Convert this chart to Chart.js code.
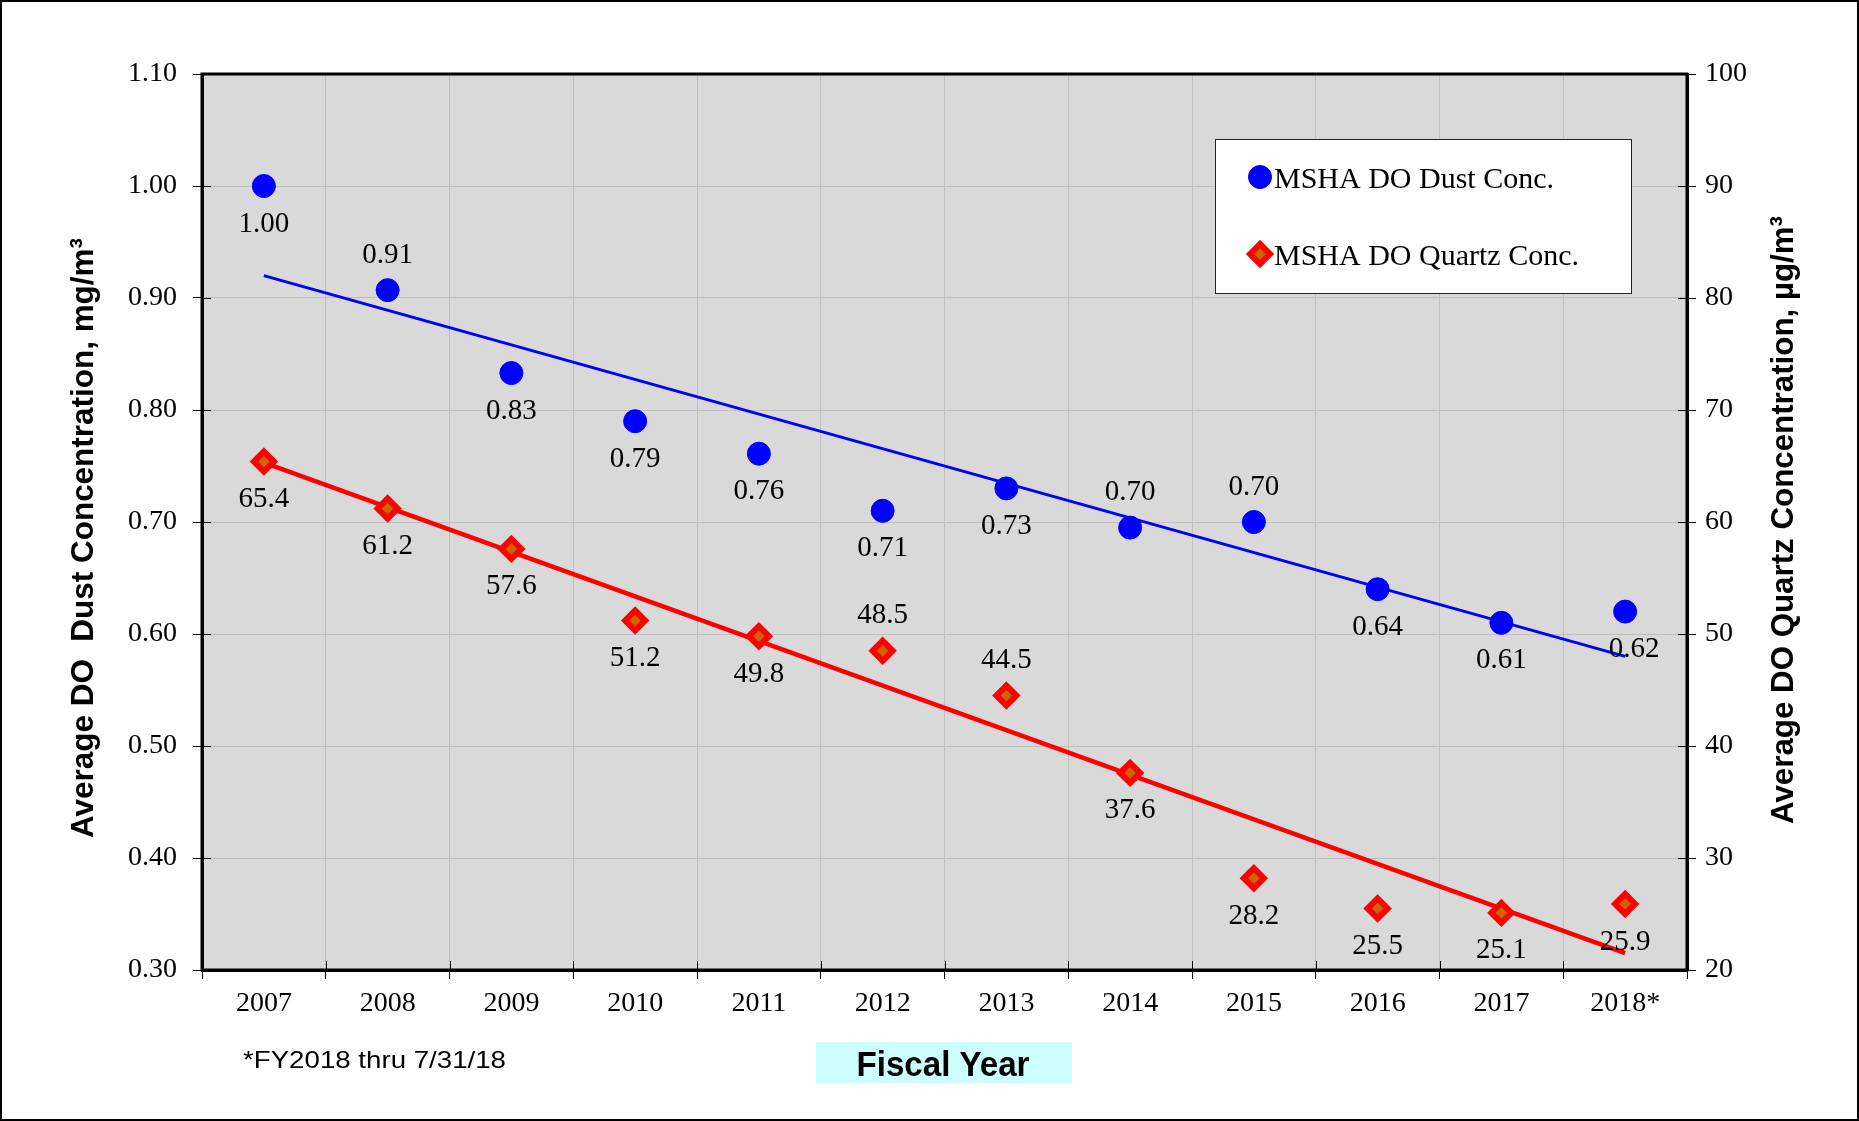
<!DOCTYPE html>
<html>
<head>
<meta charset="utf-8">
<title>MSHA DO Dust and Quartz Concentration</title>
<script src="https://cdn.jsdelivr.net/npm/chart.js@4.4.1/dist/chart.umd.min.js"></script>
<style>
  html, body { margin: 0; padding: 0; background: #fff; }
  .frame { width: 1859px; height: 1121px; box-sizing: border-box; border: 2px solid #000; }
  canvas { display: block; }
</style>
</head>
<body>
<div class="frame"><canvas id="myChart" width="1855" height="1117"></canvas></div>
<script>
/* global Chart */

// Data
const years = ['2007', '2008', '2009', '2010', '2011', '2012', '2013', '2014', '2015', '2016', '2017', '2018*'];
const dustConc = [1.00, 0.907, 0.833, 0.79, 0.761, 0.71, 0.73, 0.695, 0.70, 0.64, 0.61, 0.62];
const dustLabels = ['1.00', '0.91', '0.83', '0.79', '0.76', '0.71', '0.73', '0.70', '0.70', '0.64', '0.61', '0.62'];
const quartzConc = [65.4, 61.2, 57.6, 51.2, 49.8, 48.5, 44.5, 37.6, 28.2, 25.5, 25.1, 25.9];
// trendline ends (first and last year)
const dustTrend = [0.92, 0.58];
const quartzTrend = [65.3, 21.5];
const dustTicks = [0.30, 0.40, 0.50, 0.60, 0.70, 0.80, 0.90, 1.00, 1.10];
const quartzTicks = [20, 30, 40, 50, 60, 70, 80, 90, 100];

// which value labels sit above their point (others go below)
const dustAbove = [1, 7, 8];
const quartzAbove = [5, 6];

const serif = '"Liberation Serif", "Times New Roman", serif';
const sans = '"Liberation Sans", Arial, sans-serif';
const narrow = '"Liberation Sans Narrow", "Liberation Sans", Arial, sans-serif';

function trendData(ends) {
  return [{x: years[0], y: ends[0]}, {x: years[years.length - 1], y: ends[1]}];
}

// Draw text squeezed/stretched to a given width
function fitText(ctx, text, x, y, width, angle) {
  const w = ctx.measureText(text).width;
  ctx.save();
  ctx.translate(x, y);
  ctx.rotate(angle || 0);
  ctx.scale(width / w, 1);
  ctx.fillText(text, 0, 0);
  ctx.restore();
}

// Gray plot background
const plotBackground = {
  id: 'plotBackground',
  beforeDraw(chart) {
    const {ctx, chartArea: a} = chart;
    ctx.save();
    ctx.fillStyle = '#d9d9d9';
    ctx.fillRect(a.left, a.top, a.width, a.height);
    ctx.restore();
  }
};

// Tick marks that cross into the plot
const innerTicks = {
  id: 'innerTicks',
  beforeDatasetsDraw(chart) {
    const {ctx, chartArea: a, scales} = chart;
    ctx.save();
    ctx.strokeStyle = '#000';
    ctx.lineWidth = 1;
    ctx.beginPath();
    scales.y.ticks.forEach(function(t) {
      const py = Math.round(scales.y.getPixelForValue(t.value)) + 0.5;
      ctx.moveTo(a.left, py);
      ctx.lineTo(a.left + 9, py);
    });
    scales.y2.ticks.forEach(function(t) {
      const py = Math.round(scales.y2.getPixelForValue(t.value)) + 0.5;
      ctx.moveTo(a.right - 9, py);
      ctx.lineTo(a.right, py);
    });
    const half = (scales.x.getPixelForValue(1) - scales.x.getPixelForValue(0)) / 2;
    for (let i = 0; i <= years.length; i++) {
      const px = Math.round(scales.x.getPixelForValue(i) - half) + 0.5;
      ctx.moveTo(px, a.bottom - 9);
      ctx.lineTo(px, a.bottom);
    }
    ctx.stroke();
    ctx.restore();
  }
};

// Value labels next to the markers
const valueLabels = {
  id: 'valueLabels',
  afterDatasetsDraw(chart) {
    const ctx = chart.ctx;
    ctx.save();
    ctx.font = '29px ' + serif;
    ctx.fillStyle = '#000';
    ctx.textAlign = 'center';
    ctx.textBaseline = 'middle';
    [[0, dustLabels, dustAbove], [1, quartzConc.map(v => v.toFixed(1)), quartzAbove]].forEach(function(set) {
      const meta = chart.getDatasetMeta(set[0]);
      meta.data.forEach(function(pt, i) {
        const up = set[2].indexOf(i) !== -1;
        let dx = 0;
        if (set[0] === 0 && i === years.length - 1) dx = 9;
        ctx.fillText(set[1][i], pt.x + dx, pt.y + (up ? -35 : 38));
      });
    });
    ctx.restore();
  }
};

// Legend box, axis titles, footnote, plot frame
const decorations = {
  id: 'decorations',
  afterDraw(chart) {
    const {ctx, chartArea: a} = chart;
    ctx.save();

    // plot frame
    ctx.strokeStyle = '#000';
    ctx.lineWidth = 3;
    ctx.strokeRect(a.left, a.top, a.width, a.height);

    // legend
    ctx.fillStyle = '#fff';
    ctx.fillRect(1213, 137, 416, 154);
    ctx.strokeStyle = '#222';
    ctx.lineWidth = 1;
    ctx.strokeRect(1213.5, 137.5, 416, 154);
    [0, 1].forEach(function(idx, i) {
      const ds = chart.data.datasets[idx];
      const y = 175 + i * 77;
      ctx.fillStyle = ds.pointBackgroundColor;
      ctx.strokeStyle = ds.pointBorderColor;
      ctx.lineWidth = ds.pointBorderWidth;
      Chart.helpers.drawPoint(ctx, {
        pointStyle: ds.pointStyle,
        radius: ds.pointRadius,
        borderWidth: ds.pointBorderWidth,
        rotation: 0
      }, 1258, y);
      ctx.fillStyle = '#000';
      ctx.font = '30px ' + serif;
      ctx.textAlign = 'left';
      ctx.textBaseline = 'alphabetic';
      ctx.fillText(ds.label, 1272, y + 11);
    });

    // y axis titles
    ctx.fillStyle = '#000';
    ctx.font = 'bold 32px ' + narrow;
    ctx.textAlign = 'center';
    ctx.textBaseline = 'alphabetic';
    fitText(ctx, 'Average DO  Dust Concentration, mg/m\u00b3', 91, 536, 600, -Math.PI / 2);
    fitText(ctx, 'Average DO Quartz Concentration, \u00b5g/m\u00b3', 1791, 518, 608, -Math.PI / 2);

    // x axis title
    ctx.fillStyle = '#ccffff';
    ctx.fillRect(814, 1040, 256, 41);
    ctx.fillStyle = '#000';
    ctx.font = 'bold 35px ' + narrow;
    fitText(ctx, 'Fiscal Year', 941, 1074, 173, 0);

    // footnote
    ctx.font = '24px ' + sans;
    ctx.textAlign = 'left';
    fitText(ctx, '*FY2018 thru 7/31/18', 241, 1066, 263, 0);

    ctx.restore();
  }
};

const ctx = document.getElementById('myChart').getContext('2d');

const chart = new Chart(ctx, {
  type: 'line',
  data: {
    labels: years,
    datasets: [{
      label: 'MSHA DO Dust Conc.',
      data: dustConc,
      yAxisID: 'y',
      showLine: false,
      pointStyle: 'circle',
      pointRadius: 11.5,
      pointBackgroundColor: '#0000ff',
      pointBorderColor: '#0000ff',
      pointBorderWidth: 1,
      order: 0
    },
    {
      label: 'MSHA DO Quartz Conc.',
      data: quartzConc,
      yAxisID: 'y2',
      showLine: false,
      pointStyle: 'rectRot',
      pointRadius: 10,
      pointBackgroundColor: '#cc6600',
      pointBorderColor: '#ff0000',
      pointBorderWidth: 6,
      order: 0
    },
    {
      label: 'Dust trend',
      data: trendData(dustTrend),
      yAxisID: 'y',
      borderColor: '#0000ff',
      borderWidth: 3,
      pointRadius: 0,
      order: 1
    },
    {
      label: 'Quartz trend',
      data: trendData(quartzTrend),
      yAxisID: 'y2',
      borderColor: '#ff0000',
      borderWidth: 4.5,
      pointRadius: 0,
      order: 1
    }]
  },
  options: {
    responsive: false,
    animation: false,
    events: [],
    layout: { padding: { top: 72, left: 0, right: 0, bottom: 0 } },
    plugins: {
      legend: { display: false },
      tooltip: { enabled: false }
    },
    scales: {
      x: {
        type: 'category',
        offset: true,
        grid: { offset: true, color: '#bfbfbf', tickColor: '#000', tickLength: 9 },
        border: { color: '#000', width: 3 },
        ticks: { color: '#000', font: { family: serif, size: 28 }, padding: 8, maxRotation: 0 },
        afterFit(scale) { scale.height = 149; }
      },
      y: {
        position: 'left',
        min: 0.3,
        max: 1.1,
        afterBuildTicks(axis) { axis.ticks = dustTicks.map(v => ({value: v})); },
        grid: { color: '#bfbfbf', tickColor: '#000', tickLength: 9 },
        border: { color: '#000', width: 3 },
        ticks: {
          color: '#000',
          font: { family: serif, size: 28 },
          padding: 16,
          callback: v => v.toFixed(2)
        },
        afterFit(scale) { scale.width = 200; }
      },
      y2: {
        position: 'right',
        min: 20,
        max: 100,
        afterBuildTicks(axis) { axis.ticks = quartzTicks.map(v => ({value: v})); },
        grid: { drawOnChartArea: false, tickColor: '#000', tickLength: 9 },
        border: { color: '#000', width: 3 },
        ticks: { color: '#000', font: { family: serif, size: 28 }, padding: 9 },
        afterFit(scale) { scale.width = 170; }
      }
    }
  },
  plugins: [plotBackground, innerTicks, valueLabels, decorations]
});
</script>
</body>
</html>
